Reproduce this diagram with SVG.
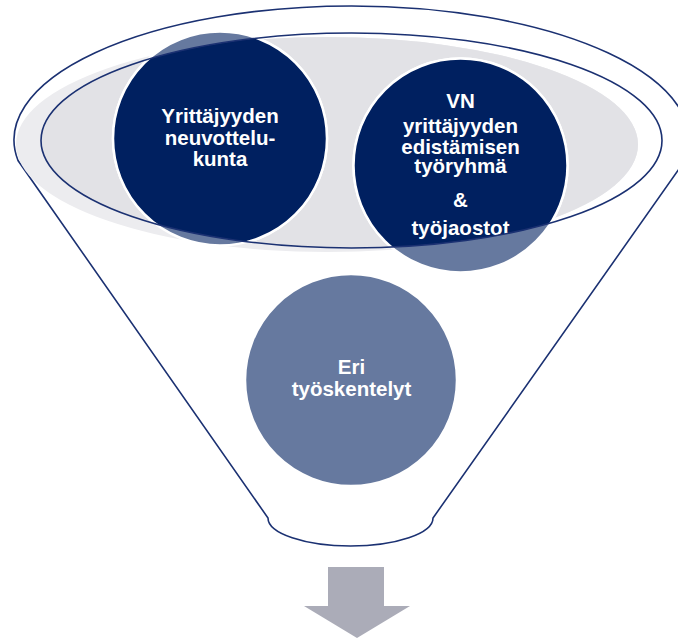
<svg xmlns="http://www.w3.org/2000/svg" width="678" height="640" viewBox="0 0 678 640">
<style>
.line{fill:none;stroke:#1b3172;stroke-width:1.6}
.slate{fill:#66799f;stroke:#fff;stroke-width:2.5}
.navy{fill:#002060;stroke:#fff;stroke-width:2.5}
.t{font-family:"Liberation Sans",Arial,sans-serif;font-weight:bold;font-size:20.5px;fill:#fff;text-anchor:middle}
</style>
<defs>
<clipPath id="lens"><ellipse cx="351.5" cy="140.5" rx="310.5" ry="107.5"/></clipPath>
</defs>
<rect width="678" height="640" fill="#fff"/>
<g id="funnel">
<path class="line" d="M18,160.5 A337.5,134 0 1 1 685,160.5 L433,518 A82.5,28 0 0 1 268,518 Z"/>
</g>
<g id="lens-fill">
<ellipse cx="327" cy="144.5" rx="311" ry="107.5" fill="#ececef"/>
<ellipse cx="327" cy="144.5" rx="311" ry="107.5" fill="#e2e2e6" clip-path="url(#lens)"/>
</g>
<g id="node-neuvottelukunta">
<circle class="slate" cx="220" cy="138.5" r="107"/>
<g clip-path="url(#lens)">
<circle class="navy" cx="220" cy="138.5" r="107"/>
<text class="t" x="220" y="123">Yrittäjyyden</text>
<text class="t" x="220" y="145">neuvottelu-</text>
<text class="t" x="220" y="166">kunta</text>
</g>
</g>
<g id="node-tyoryhma">
<circle class="slate" cx="460.5" cy="165.5" r="107"/>
<g clip-path="url(#lens)">
<circle class="navy" cx="460.5" cy="165.5" r="107"/>
<text class="t" x="460.5" y="108">VN</text>
<text class="t" x="460.5" y="133">yrittäjyyden</text>
<text class="t" x="460.5" y="153.5">edistämisen</text>
<text class="t" x="460.5" y="173">työryhmä</text>
<text class="t" x="460.5" y="207">&amp;</text>
<text class="t" x="460.5" y="235">työjaostot</text>
</g>
</g>
<g id="node-tyoskentelyt">
<circle class="slate" cx="351" cy="380" r="106"/>
<text class="t" x="351.5" y="373.5">Eri</text>
<text class="t" x="351.5" y="395.5">työskentelyt</text>
</g>
<g id="lens-outline">
<ellipse class="line" cx="351.5" cy="140.5" rx="310.5" ry="107.5"/>
</g>
<g id="connectors">
<path d="M328,567 H384 V606 H410 L357,638 L304,606 H328 Z" fill="#abacb8"/>
</g>
</svg>
